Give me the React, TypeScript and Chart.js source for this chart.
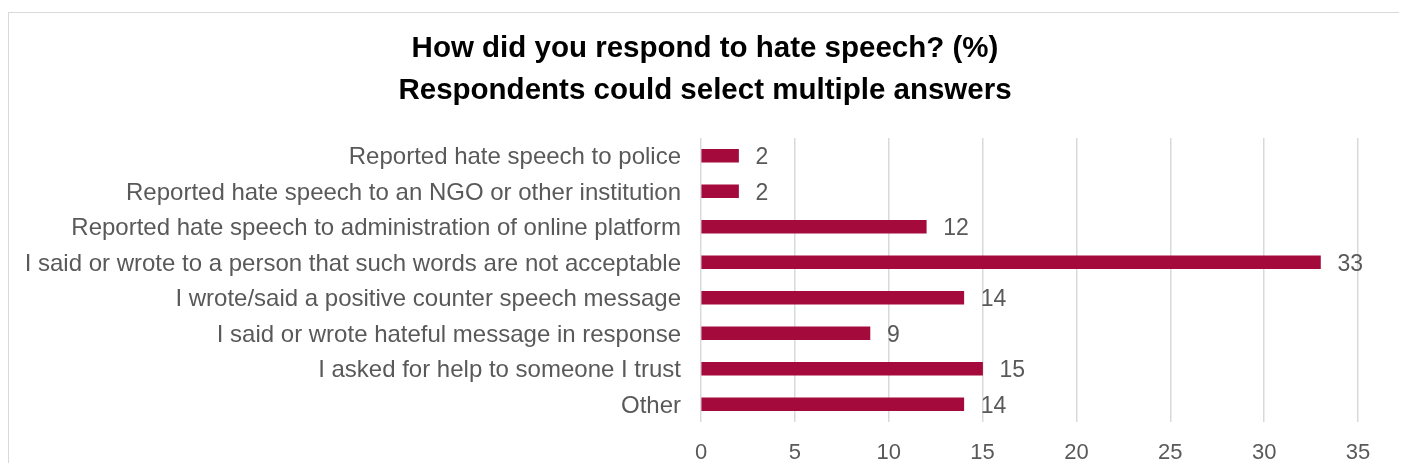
import React, { useEffect, useRef } from "react";
import { Chart, registerables } from "chart.js";

Chart.register(...registerables);

const categories = [
  "Reported hate speech to police",
  "Reported hate speech to an NGO or other institution",
  "Reported hate speech to administration of online platform",
  "I said or wrote to a person that such words are not acceptable",
  "I wrote/said a positive counter speech message",
  "I said or wrote hateful message in response",
  "I asked for help to someone I trust",
  "Other",
];
const values = [2, 2, 12, 33, 14, 9, 15, 14];
const titleLines = ["How did you respond to hate speech? (%)", "Respondents could select multiple answers"];
const xMax = 35;
const xStep = 5;

const FONT = "'Liberation Sans', Arial, sans-serif";

const valueLabels = {
  id: "valueLabels",
  afterDatasetsDraw(chart: any) {
    const ctx = chart.ctx;
    const meta = chart.getDatasetMeta(0);
    ctx.save();
    ctx.font = `23px ${FONT}`;
    ctx.fillStyle = "#595959";
    ctx.textAlign = "left";
    ctx.textBaseline = "middle";
    meta.data.forEach((bar: any, i: number) => {
      ctx.fillText(String(values[i]), bar.x + 17, bar.y + 2);
    });
    ctx.restore();
  },
};

// Title centred over the whole canvas (not just the padded layout box)
const centeredTitle = {
  id: "centeredTitle",
  afterDraw(chart: any) {
    const ctx = chart.ctx;
    ctx.save();
    ctx.font = `bold 29.5px ${FONT}`;
    ctx.fillStyle = "#000000";
    ctx.textAlign = "center";
    ctx.textBaseline = "middle";
    const cx = chart.width / 2;
    titleLines.forEach((line, i) => {
      ctx.fillText(line, cx, 36 + i * 41.5);
    });
    ctx.restore();
  },
};

export default function App() {
  const ref = useRef<HTMLCanvasElement>(null);
  useEffect(() => {
    if (!ref.current) return;
    const chart = new Chart(ref.current, {
      type: "bar",
      data: {
        labels: categories,
        datasets: [
          {
            data: values,
            backgroundColor: "#A50A3D",
            barThickness: 13,
          },
        ],
      },
      options: {
        indexAxis: "y",
        animation: false,
        responsive: true,
        maintainAspectRatio: false,
        layout: { padding: { left: 0, right: 43, top: 125, bottom: 0 } },
        plugins: {
          legend: { display: false },
          tooltip: { enabled: false },
          title: { display: false },
        },
        scales: {
          x: {
            min: 0,
            max: xMax,
            ticks: {
              stepSize: xStep,
              color: "#595959",
              font: { family: FONT, size: 22 },
              padding: 18,
            },
            grid: { color: "#d9d9d9", lineWidth: 1.5, drawTicks: false },
            border: { display: false },
            afterFit: (s: any) => {
              s.height = 41;
            },
          },
          y: {
            ticks: {
              color: "#595959",
              font: { family: FONT, size: 24 },
              padding: 20,
              labelOffset: 2,
            },
            grid: { display: false, drawTicks: false },
            border: { display: false },
            afterFit: (s: any) => {
              s.width = 692;
            },
          },
        },
      },
      plugins: [valueLabels, centeredTitle],
    });
    return () => chart.destroy();
  }, []);
  return (
    <div style={{ paddingTop: 4 }}>
      <div
        style={{
          width: 1392,
          height: 450,
          borderTop: "1px solid #d9d9d9",
          borderLeft: "1px solid #d9d9d9",
          borderRight: "1px solid #d9d9d9",
          position: "relative",
        }}
      >
        <canvas ref={ref} />
      </div>
    </div>
  );
}
